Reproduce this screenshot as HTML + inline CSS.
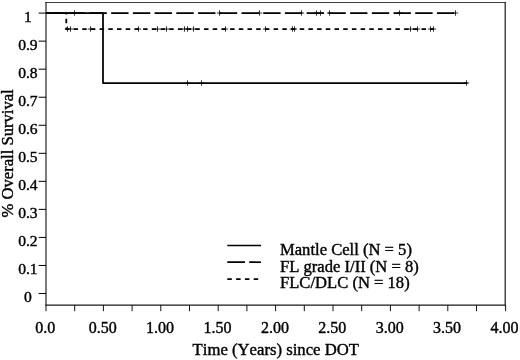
<!DOCTYPE html>
<html><head><meta charset="utf-8"><title>Overall Survival</title>
<style>
html,body{margin:0;padding:0;background:#fff;}
svg{display:block;}
text{font-family:"Liberation Serif","Times New Roman",serif;fill:#000;stroke:#000;stroke-width:0.4px;font-kerning:none;}
</style></head><body>
<svg xmlns="http://www.w3.org/2000/svg" width="520" height="360" viewBox="0 0 520 360">
<rect width="520" height="360" fill="#fff"/>
<path d="M45.4 2.5H505.8" stroke="#3c3c3c" stroke-width="1" fill="none"/>
<path d="M45.4 305.1H505.8" stroke="#1a1a1a" stroke-width="1.1" fill="none"/>
<path d="M46 2V305.6" stroke="#222" stroke-width="1.2" fill="none"/>
<path d="M505.2 2V305.6" stroke="#222" stroke-width="1.25" fill="none"/>
<line x1="46.00" y1="305" x2="46.00" y2="311.2" stroke="#111" stroke-width="1"/>
<line x1="74.70" y1="305" x2="74.70" y2="311.2" stroke="#111" stroke-width="1"/>
<line x1="103.40" y1="305" x2="103.40" y2="311.2" stroke="#111" stroke-width="1"/>
<line x1="132.10" y1="305" x2="132.10" y2="311.2" stroke="#111" stroke-width="1"/>
<line x1="160.80" y1="305" x2="160.80" y2="311.2" stroke="#111" stroke-width="1"/>
<line x1="189.50" y1="305" x2="189.50" y2="311.2" stroke="#111" stroke-width="1"/>
<line x1="218.20" y1="305" x2="218.20" y2="311.2" stroke="#111" stroke-width="1"/>
<line x1="246.90" y1="305" x2="246.90" y2="311.2" stroke="#111" stroke-width="1"/>
<line x1="275.60" y1="305" x2="275.60" y2="311.2" stroke="#111" stroke-width="1"/>
<line x1="304.30" y1="305" x2="304.30" y2="311.2" stroke="#111" stroke-width="1"/>
<line x1="333.00" y1="305" x2="333.00" y2="311.2" stroke="#111" stroke-width="1"/>
<line x1="361.70" y1="305" x2="361.70" y2="311.2" stroke="#111" stroke-width="1"/>
<line x1="390.40" y1="305" x2="390.40" y2="311.2" stroke="#111" stroke-width="1"/>
<line x1="419.10" y1="305" x2="419.10" y2="311.2" stroke="#111" stroke-width="1"/>
<line x1="447.80" y1="305" x2="447.80" y2="311.2" stroke="#111" stroke-width="1"/>
<line x1="476.50" y1="305" x2="476.50" y2="311.2" stroke="#111" stroke-width="1"/>
<line x1="505.60" y1="305" x2="505.60" y2="311.2" stroke="#111" stroke-width="1"/>
<line x1="38.6" y1="293.50" x2="46" y2="293.50" stroke="#000" stroke-width="1"/>
<line x1="38.6" y1="265.46" x2="46" y2="265.46" stroke="#000" stroke-width="1"/>
<line x1="38.6" y1="237.42" x2="46" y2="237.42" stroke="#000" stroke-width="1"/>
<line x1="38.6" y1="209.38" x2="46" y2="209.38" stroke="#000" stroke-width="1"/>
<line x1="38.6" y1="181.34" x2="46" y2="181.34" stroke="#000" stroke-width="1"/>
<line x1="38.6" y1="153.30" x2="46" y2="153.30" stroke="#000" stroke-width="1"/>
<line x1="38.6" y1="125.26" x2="46" y2="125.26" stroke="#000" stroke-width="1"/>
<line x1="38.6" y1="97.22" x2="46" y2="97.22" stroke="#000" stroke-width="1"/>
<line x1="38.6" y1="69.18" x2="46" y2="69.18" stroke="#000" stroke-width="1"/>
<line x1="38.6" y1="41.14" x2="46" y2="41.14" stroke="#000" stroke-width="1"/>
<line x1="38.6" y1="13.10" x2="46" y2="13.10" stroke="#000" stroke-width="1"/>
<text x="27.9" y="302.35" font-size="15.6" text-anchor="middle">0</text>
<text x="27.9" y="274.31" font-size="15.6" text-anchor="middle">0.1</text>
<text x="27.9" y="246.27" font-size="15.6" text-anchor="middle">0.2</text>
<text x="27.9" y="218.23" font-size="15.6" text-anchor="middle">0.3</text>
<text x="27.9" y="190.19" font-size="15.6" text-anchor="middle">0.4</text>
<text x="27.9" y="162.15" font-size="15.6" text-anchor="middle">0.5</text>
<text x="27.9" y="134.11" font-size="15.6" text-anchor="middle">0.6</text>
<text x="27.9" y="106.07" font-size="15.6" text-anchor="middle">0.7</text>
<text x="27.9" y="78.03" font-size="15.6" text-anchor="middle">0.8</text>
<text x="27.9" y="49.99" font-size="15.6" text-anchor="middle">0.9</text>
<text x="27.9" y="21.95" font-size="15.6" text-anchor="middle">1</text>
<text x="45.30" y="333.2" font-size="16" text-anchor="middle">0.0</text>
<text x="102.70" y="333.2" font-size="16" text-anchor="middle">0.50</text>
<text x="160.10" y="333.2" font-size="16" text-anchor="middle">1.00</text>
<text x="217.50" y="333.2" font-size="16" text-anchor="middle">1.50</text>
<text x="274.90" y="333.2" font-size="16" text-anchor="middle">2.00</text>
<text x="332.30" y="333.2" font-size="16" text-anchor="middle">2.50</text>
<text x="389.70" y="333.2" font-size="16" text-anchor="middle">3.00</text>
<text x="447.10" y="333.2" font-size="16" text-anchor="middle">3.50</text>
<text x="504.50" y="333.2" font-size="16" text-anchor="middle">4.00</text>
<text x="275.8" y="354.8" font-size="16.7" text-anchor="middle">Time (Years) since DOT</text>
<text transform="translate(13,153.4) rotate(-90)" font-size="16.6" text-anchor="middle">% Overall Survival</text>
<path d="M46 13.0H457" stroke="#000" stroke-width="1.75" fill="none" stroke-dasharray="17.4 4.32"/>
<path d="M74.5 10.3V15.7M71.8 13.0H77.2M219.5 10.3V15.7M216.8 13.0H222.2M259.5 10.3V15.7M256.8 13.0H262.2M301.5 10.3V15.7M298.8 13.0H304.2M316.5 10.3V15.7M313.8 13.0H319.2M320.5 10.3V15.7M317.8 13.0H323.2M329.5 10.3V15.7M326.8 13.0H332.2M399.5 10.3V15.7M396.8 13.0H402.2M455.5 10.3V15.7M452.8 13.0H458.2" stroke="#000" stroke-width="0.8" fill="none"/>
<path d="M46 13.0H66.3V29.0H434" stroke="#000" stroke-width="1.75" fill="none" stroke-dasharray="4.5 4.2"/>
<path d="M67.5 26.3V31.7M64.8 29.0H70.2M70.5 26.3V31.7M67.8 29.0H73.2M90.5 26.3V31.7M87.8 29.0H93.2M138.5 26.3V31.7M135.8 29.0H141.2M157.5 26.3V31.7M154.8 29.0H160.2M166.5 26.3V31.7M163.8 29.0H169.2M184.5 26.3V31.7M181.8 29.0H187.2M187.5 26.3V31.7M184.8 29.0H190.2M193.5 26.3V31.7M190.8 29.0H196.2M225.5 26.3V31.7M222.8 29.0H228.2M265.5 26.3V31.7M262.8 29.0H268.2M292.5 26.3V31.7M289.8 29.0H295.2M294.5 26.3V31.7M291.8 29.0H297.2M410.5 26.3V31.7M407.8 29.0H413.2M417.5 26.3V31.7M414.8 29.0H420.2M430.5 26.3V31.7M427.8 29.0H433.2M433.5 26.3V31.7M430.8 29.0H436.2" stroke="#000" stroke-width="0.8" fill="none"/>
<path d="M46 13.0H103V83.0H467.5" stroke="#000" stroke-width="1.75" fill="none" stroke-linejoin="round"/>
<path d="M187.5 80.3V85.7M184.8 83.0H190.2M201.5 80.3V85.7M198.8 83.0H204.2M466.5 80.3V85.7M463.8 83.0H469.2" stroke="#000" stroke-width="0.8" fill="none"/>
<path d="M227.3 245.5H261" stroke="#000" stroke-width="1.7" fill="none"/>
<path d="M227.3 262.2H261" stroke="#000" stroke-width="1.7" fill="none" stroke-dasharray="17.7 4.2"/>
<path d="M227.3 279.1H261" stroke="#000" stroke-width="1.7" fill="none" stroke-dasharray="4.5 4.3"/>
<text x="280" y="254.5" font-size="16.6">Mantle Cell (N = 5)</text>
<text x="280" y="271.7" font-size="16.6">FL grade I/II (N = 8)</text>
<text x="280" y="288.1" font-size="16.6">FLC/DLC (N = 18)</text>
</svg>
</body></html>
